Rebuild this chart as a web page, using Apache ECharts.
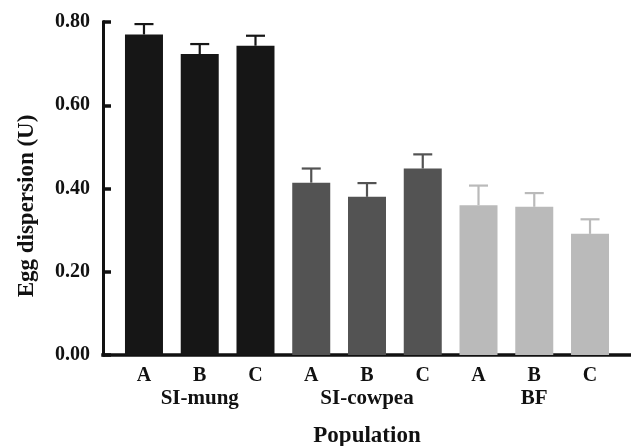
<!DOCTYPE html>
<html>
<head>
<meta charset="utf-8">
<script src="https://cdn.jsdelivr.net/npm/echarts@6/dist/echarts.min.js"></script>
<style>
  html, body { margin: 0; padding: 0; background: #fff; }
  #chart { width: 631px; height: 446px; }
</style>
</head>
<body>
<div id="chart"></div>
<script>
// ---- data ----
const categories = ['A', 'B', 'C', 'A', 'B', 'C', 'A', 'B', 'C'];
const groups = ['SI-mung', 'SI-cowpea', 'BF'];
const groupColors = ['#161616', '#535353', '#bababa'];
const means = [0.770, 0.723, 0.743, 0.414, 0.380, 0.448, 0.360, 0.356, 0.291];
const errors = [0.025, 0.024, 0.024, 0.034, 0.033, 0.034, 0.047, 0.033, 0.035];
const yTicks = [0, 0.2, 0.4, 0.6, 0.8];

const FONT = '"Liberation Serif", "Times New Roman", serif';
const chart = echarts.init(document.getElementById('chart'), null, { renderer: 'canvas' });

const positions = categories.map((c, i) => i);
const groupPositions = groups.map((g, j) => j * 3 + 1);

const barData = means.map((v, i) => ({
  value: [i, v],
  itemStyle: { color: groupColors[Math.floor(i / 3)] }
}));
const errData = means.map((v, i) => [i, v, errors[i]]);

chart.setOption({
  animation: false,
  backgroundColor: '#ffffff',
  grid: { left: 103, right: 0, top: 22, bottom: 91, containLabel: false, outerBoundsMode: 'none' },
  xAxis: [
    {
      type: 'value', min: -0.735, max: 8.735,
      splitLine: { show: false },
      axisLine: { show: true, onZero: false, lineStyle: { color: '#111', width: 3.5, cap: 'square' } },
      axisTick: { show: false },
      axisLabel: {
        customValues: positions,
        formatter: v => categories[Math.round(v)],
        margin: 11,
        color: '#111', fontFamily: FONT, fontWeight: 'bold', fontSize: 20
      },
      name: 'Population', nameLocation: 'middle', nameGap: 70,
      nameTextStyle: { color: '#111', fontFamily: FONT, fontWeight: 'bold', fontSize: 23 }
    },
    {
      type: 'value', min: -0.735, max: 8.735, position: 'bottom', offset: 0,
      splitLine: { show: false },
      axisLine: { show: false, onZero: false },
      axisTick: { show: false },
      axisLabel: {
        customValues: groupPositions,
        formatter: v => groups[Math.round((v - 1) / 3)],
        margin: 33,
        color: '#111', fontFamily: FONT, fontWeight: 'bold', fontSize: 21
      }
    }
  ],
  yAxis: {
    type: 'value', min: 0, max: 0.8, interval: 0.2,
    splitLine: { show: false },
    axisLine: { show: true, onZero: false, lineStyle: { color: '#111', width: 3, cap: 'square' } },
    axisTick: { show: true, inside: true, length: 8, lineStyle: { color: '#111', width: 3.5 } },
    axisLabel: {
      customValues: yTicks,
      formatter: v => v.toFixed(2),
      margin: 13,
      color: '#111', fontFamily: FONT, fontWeight: 'bold', fontSize: 20
    }
  },
  graphic: [{
    type: 'text', x: 27, y: 206, rotation: Math.PI / 2,
    style: {
      text: 'Egg dispersion (U)', align: 'center', verticalAlign: 'middle',
      fill: '#111', font: 'bold 23px ' + FONT
    }
  }],
  series: [
    {
      type: 'bar', xAxisIndex: 0, barWidth: 38,
      data: barData
    },
    {
      type: 'custom', xAxisIndex: 0,
      data: errData,
      z: 3,
      renderItem: function (params, api) {
        const x = api.value(0), m = api.value(1), e = api.value(2);
        const top = api.coord([x, m]);
        const cap = api.coord([x, m + e]);
        const col = groupColors[Math.floor(x / 3)];
        const hw = 9.5;
        return {
          type: 'group',
          children: [
            { type: 'line', shape: { x1: top[0], y1: top[1], x2: cap[0], y2: cap[1] },
              style: { stroke: col, lineWidth: 2.2 } },
            { type: 'line', shape: { x1: cap[0] - hw, y1: cap[1], x2: cap[0] + hw, y2: cap[1] },
              style: { stroke: col, lineWidth: 2.2 } }
          ]
        };
      }
    }
  ]
});
</script>
</body>
</html>
